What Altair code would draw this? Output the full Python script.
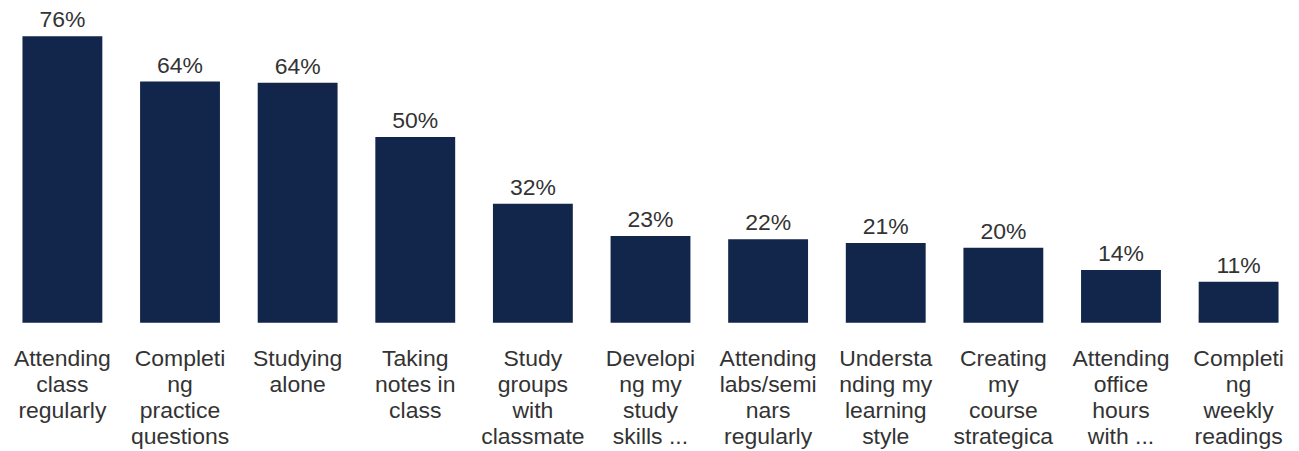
import altair as alt
import pandas as pd

categories = [
    "Attending\nclass\nregularly",
    "Completi\nng\npractice\nquestions",
    "Studying\nalone",
    "Taking\nnotes in\nclass",
    "Study\ngroups\nwith\nclassmate",
    "Developi\nng my\nstudy\nskills ...",
    "Attending\nlabs/semi\nnars\nregularly",
    "Understa\nnding my\nlearning\nstyle",
    "Creating\nmy\ncourse\nstrategica",
    "Attending\noffice\nhours\nwith ...",
    "Completi\nng\nweekly\nreadings",
]
values = [76, 64, 63.7, 49.3, 31.6, 23, 22.2, 21.2, 19.9, 14, 10.9]
labels = ["76%", "64%", "64%", "50%", "32%", "23%", "22%", "21%", "20%", "14%", "11%"]

df = pd.DataFrame({"cat": categories, "value": values, "label": labels})

FONT = "Liberation Sans"

x = alt.X(
    "cat:N",
    sort=None,
    scale=alt.Scale(paddingInner=0.321, paddingOuter=0.106),
    axis=alt.Axis(
        title=None,
        labelAngle=0,
        labelExpr="split(datum.label, '\\n')",
        labelFont=FONT,
        labelFontSize=23,
        labelColor="#333333",
        labelLineHeight=26,
        labelBaseline="top",
        labelPadding=25,
        labelLimit=200,
        ticks=False,
        domain=False,
    ),
)
y = alt.Y("value:Q", scale=alt.Scale(domain=[0, 83.4], nice=False, zero=True), axis=None)

bars = alt.Chart(df).mark_bar(color="#12254b").encode(x=x, y=y)
text = alt.Chart(df).mark_text(
    baseline="bottom", dy=-4, font=FONT, fontSize=23, color="#333333"
).encode(x=x, y=y, text="label:N")

chart = (
    alt.layer(bars, text)
    .properties(
        width=1283,
        height=315,
        autosize=alt.AutoSizeParams(type="none"),
        padding={"top": 0, "left": 2, "right": 0, "bottom": 128},
    )
    .configure_view(stroke=None)
    .configure_axis(grid=False)
)

chart.save("out.html", embed_options={"renderer": "svg", "actions": False})
